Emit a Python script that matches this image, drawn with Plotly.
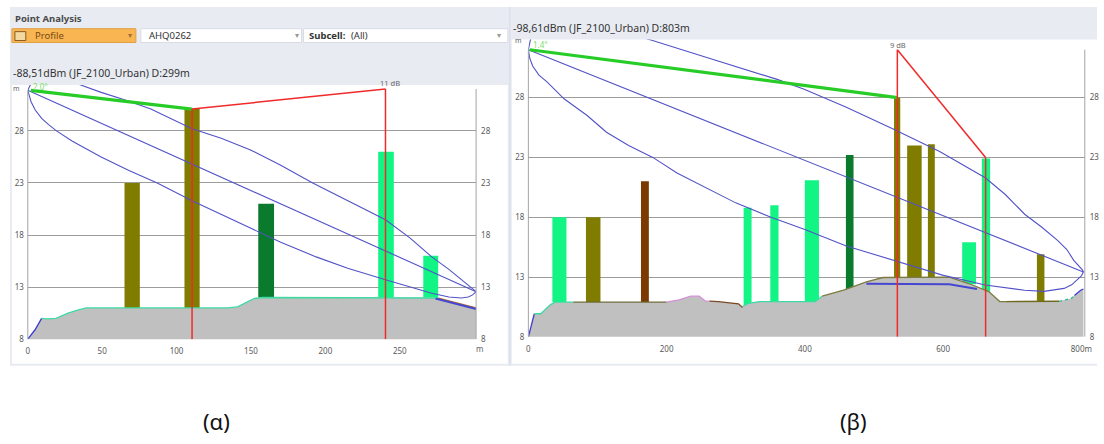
import numpy as np
import plotly.graph_objects as go

W, H = 1104, 444
FONT = "Noto Sans"

# ---------------- panel (α): 299 m path ----------------
A_TERRAIN_D = [0, 4.9, 9.3, 13, 19, 27, 34, 39.3, 134, 141, 148, 152, 158, 276, 288, 301.3]
A_TERRAIN_H = [8.0, 8.9, 10.0, 9.95, 10.0, 10.5, 10.8, 11.0, 11.0, 11.1, 11.6, 11.9, 12.0, 11.95, 11.5, 11.0]
A_OUTLINE_BREAKS = [0, 9.3, 276, 301.3]
A_OUTLINE_COLORS = ["#3c3cd2", "#3fd9a2", "#b0703a"]

A_BLD_START = [65.0, 105.3, 154.9, 235.5, 265.8]
A_BLD_END = [75.3, 115.5, 165.5, 246.0, 275.8]
A_BLD_TOP = [23.0, 30.1, 21.0, 26.0, 16.0]
A_BLD_BASE = [11.0, 11.0, 12.0, 12.0, 12.0]
A_BLD_COLOR = ["#807c00", "#807c00", "#0a7a2c", "#12f585", "#12f585"]

A_FZ_UP_D = [0, 2, 6, 15, 30, 49.3, 66, 82.7, 110.4, 130, 149.3, 170, 191.5, 215, 240.4, 257, 271.5,
             283, 291.5, 296, 299, 301.3]
A_FZ_UP_H = [31.9, 32.5, 33.0, 33.2, 32.7, 31.7, 30.95, 30.1, 28.2, 27.3, 26.2, 24.7, 23.0, 21.3, 19.46,
             17.7, 15.9, 14.7, 13.7, 13.25, 12.9, 12.56]
A_FZ_LO_D = [0, 1, 2.2, 5, 9.3, 14, 19.3, 30, 49.3, 68, 87, 110.4, 130, 149.3, 170, 193.8, 215, 240.4,
             257, 271.5, 283, 291.5, 296, 299, 301.3]
A_FZ_LO_H = [31.9, 31.3, 30.8, 30.0, 29.2, 28.6, 28.0, 27.0, 25.5, 24.2, 23.0, 21.3, 20.0, 18.7, 17.3,
             15.9, 14.8, 13.7, 13.0, 12.4, 12.05, 11.95, 12.05, 12.25, 12.56]
A_LOS_D = [0, 301.3]
A_LOS_H = [31.9, 12.56]
A_BLUE_D = [274, 301.3]
A_BLUE_H = [11.9, 10.9]

A_PATH_D = [2, 110.4]          # clear path to the first obstruction
A_PATH_H = [31.9, 30.1]
A_EDGE_D = [110.4, 240.4]      # knife-edge diffraction points
A_EDGE_H = [30.1, 32.03]
A_ANGLE = "2.0°"
A_LOSS = "11 dB"
A_TITLE = "-88,51dBm (JF_2100_Urban) D:299m"
A_XTICKS = [0, 50, 100, 150, 200, 250]

# ---------------- panel (β): 803 m path ----------------
B_TERRAIN_D = [0, 8.6, 18, 32, 39, 200, 218, 235, 247, 256, 275, 304, 309, 318, 335, 415, 425,
               456, 489, 513, 609, 637, 666, 682, 766, 785, 799, 803]
B_TERRAIN_H = [8.0, 9.93, 9.93, 10.7, 10.9, 10.9, 11.1, 11.4, 11.4, 11.0, 10.95, 10.76, 10.5, 10.8,
               10.95, 10.95, 11.4, 11.9, 12.6, 12.96, 13.0, 12.46, 11.78, 10.95, 10.95, 11.2, 11.9, 12.0]
B_OUTLINE_BREAKS = [0, 8.6, 65, 200, 262, 310, 425, 690, 768, 790, 803]
B_OUTLINE_COLORS = ["#3c3cd2", "#3fd9a2", "#6e6a3a", "#d58fd8", "#7a4a24", "#3fd9a2",
                    "#7d7a40", "#6e6a20", "#2fb8a0", "#3c3cd2"]

B_BLD_START = [34.7, 83.3, 162.9, 311.4, 350.0, 400.0, 459.4, 529.0, 548.0, 578.0, 627.6, 656.1, 735.7]
B_BLD_END = [55.1, 104.3, 174.3, 322.9, 361.9, 420.4, 470.4, 538.0, 569.0, 588.0, 647.6, 668.0, 746.6]
B_BLD_TOP = [18.0, 18.0, 21.0, 18.8, 19.0, 21.1, 23.2, 28.0, 24.0, 24.1, 15.9, 22.9, 14.9]
B_BLD_BASE = [10.9, 10.9, 10.9, 10.6, 10.95, 10.95, 11.8, 13.0, 13.0, 13.0, 12.4, 11.6, 10.95]
B_BLD_COLOR = ["#12f585", "#807c00", "#7a3a00", "#12f585", "#12f585", "#12f585", "#0a7a2c",
               "#807c00", "#807c00", "#807c00", "#12f585", "#12f585", "#807c00"]

B_FZ_UP_D = [0, 5, 30, 80, 130, 175, 250, 320, 361, 399, 460, 527, 595, 661, 690, 718, 742, 766, 779,
             789, 795, 799, 801.5, 803]
B_FZ_UP_H = [32.0, 33.4, 34.3, 34.3, 33.6, 32.85, 31.5, 30.2, 29.5, 28.7, 27.2, 25.4, 23.5, 21.3, 19.9,
             18.25, 17.2, 16.05, 15.3, 14.4, 14.05, 13.75, 13.6, 13.43]
B_FZ_LO_D = [0, 2, 6.2, 15, 27.7, 51.6, 85, 113, 145, 180, 215, 256, 300, 351, 399, 460, 527, 599, 661,
             718, 746, 775, 786, 794, 800, 803]
B_FZ_LO_H = [32.0, 31.3, 30.64, 29.9, 29.27, 27.9, 26.5, 25.1, 24.0, 23.0, 21.7, 20.5, 19.2, 18.0,
             17.0, 15.6, 14.4, 13.16, 12.33, 11.9, 11.8, 12.05, 12.35, 12.74, 13.1, 13.43]
B_LOS_D = [0, 803]
B_LOS_H = [32.0, 13.43]
B_BLUE_D = [489, 540, 609, 649]
B_BLUE_H = [12.45, 12.45, 12.4, 12.0]

B_PATH_D = [2, 533.8]
B_PATH_H = [32.0, 28.0]
B_EDGE_D = [533.8, 661.5]
B_EDGE_H = [32.0, 23.0]
B_ANGLE = "1.4°"
B_LOSS = "9 dB"
B_TITLE = "-98,61dBm (JF_2100_Urban) D:803m"
B_XTICKS = [0, 200, 400, 600, 800]
B_XTICKTEXT = ["0", "200", "400", "600", "800m"]

Y_TICKS = [8, 13, 18, 23, 28]

GRAY_AXIS = "#a4a4a4"
GRID = "#9c9c9c"
TICK_FONT = dict(family=FONT, size=8, color="#5a5a5a")
FZ_COLOR = "#5252c8"
RED = "#f02a2a"
GREEN = "#27cc27"


def px(x):
    return x / W


def py(y):
    return 1 - y / H


fig = go.Figure()


def add_profile(xa, ya, terr_d, terr_h, breaks, out_colors, b_start, b_end, b_top, b_base, b_color,
                up_d, up_h, lo_d, lo_h, los_d, los_h, blue_d, blue_h, path_d, path_h, edge_d, edge_h):
    # ground
    fig.add_trace(go.Scatter(x=terr_d, y=terr_h, mode="lines", fill="tozeroy", fillcolor="#c0c0c0",
                             line=dict(width=0), xaxis=xa, yaxis=ya, hoverinfo="skip", showlegend=False))
    # clutter-coloured ground outline
    for i, col in enumerate(out_colors):
        d0, d1 = breaks[i], breaks[i + 1]
        xs = [d0] + [d for d in terr_d if d0 < d < d1] + [d1]
        ys = list(np.interp(xs, terr_d, terr_h))
        dash = "dot" if col == "#2fb8a0" else "solid"
        fig.add_trace(go.Scatter(x=xs, y=ys, mode="lines", line=dict(color=col, width=1.3, dash=dash),
                                 xaxis=xa, yaxis=ya, hoverinfo="skip", showlegend=False))
    # buildings
    centers = [(s + e) / 2 for s, e in zip(b_start, b_end)]
    widths = [e - s for s, e in zip(b_start, b_end)]
    heights = [t - b for t, b in zip(b_top, b_base)]
    fig.add_trace(go.Bar(x=centers, y=heights, base=b_base, width=widths, marker_color=b_color,
                         marker_line_width=0, xaxis=xa, yaxis=ya, hoverinfo="skip", showlegend=False))
    # Fresnel zone and line of sight
    for d, h in ((up_d, up_h), (lo_d, lo_h), (los_d, los_h)):
        fig.add_trace(go.Scatter(x=d, y=h, mode="lines", line=dict(color=FZ_COLOR, width=1.1),
                                 xaxis=xa, yaxis=ya, hoverinfo="skip", showlegend=False))
    fig.add_trace(go.Scatter(x=blue_d, y=blue_h, mode="lines", line=dict(color="#4646d0", width=2),
                             xaxis=xa, yaxis=ya, hoverinfo="skip", showlegend=False))
    # clear path segment
    fig.add_trace(go.Scatter(x=path_d, y=path_h, mode="lines", line=dict(color=GREEN, width=3.2),
                             xaxis=xa, yaxis=ya, hoverinfo="skip", showlegend=False))
    # diffraction edges: verticals down to the axis floor plus the joining line
    red_x = [edge_d[0], edge_d[0], None, edge_d[0], edge_d[1], None, edge_d[1], edge_d[1]]
    red_y = [Y_TICKS[0], edge_h[0], None, edge_h[0], edge_h[1], None, edge_h[1], Y_TICKS[0]]
    fig.add_trace(go.Scatter(x=red_x, y=red_y, mode="lines", line=dict(color=RED, width=1.5),
                             xaxis=xa, yaxis=ya, hoverinfo="skip", showlegend=False))


add_profile("x", "y", A_TERRAIN_D, A_TERRAIN_H, A_OUTLINE_BREAKS, A_OUTLINE_COLORS,
            A_BLD_START, A_BLD_END, A_BLD_TOP, A_BLD_BASE, A_BLD_COLOR,
            A_FZ_UP_D, A_FZ_UP_H, A_FZ_LO_D, A_FZ_LO_H, A_LOS_D, A_LOS_H, A_BLUE_D, A_BLUE_H,
            A_PATH_D, A_PATH_H, A_EDGE_D, A_EDGE_H)
add_profile("x2", "y2", B_TERRAIN_D, B_TERRAIN_H, B_OUTLINE_BREAKS, B_OUTLINE_COLORS,
            B_BLD_START, B_BLD_END, B_BLD_TOP, B_BLD_BASE, B_BLD_COLOR,
            B_FZ_UP_D, B_FZ_UP_H, B_FZ_LO_D, B_FZ_LO_H, B_LOS_D, B_LOS_H, B_BLUE_D, B_BLUE_H,
            B_PATH_D, B_PATH_H, B_EDGE_D, B_EDGE_H)

# placeholder traces so the right-hand height scales are drawn
for xa, ya in (("x", "y3"), ("x2", "y4")):
    fig.add_trace(go.Scatter(x=[None], y=[None], xaxis=xa, yaxis=ya, showlegend=False, hoverinfo="skip"))

A_YMAX = 8 + (343 - 86) / 10.53
B_YMAX = 8 + (340.7 - 40) / 12.1
A_XMAX = 301.3
B_XMAX = 805

yax_common = dict(tickvals=Y_TICKS, tickfont=TICK_FONT, zeroline=False, ticks="", showline=False,
                  fixedrange=True)
xax_common = dict(showgrid=False, zeroline=False, ticks="", showline=False, tickfont=TICK_FONT,
                  ticklabelstandoff=6)

fig.update_layout(
    width=W, height=H, autosize=False,
    margin=dict(l=0, r=0, t=0, b=0),
    paper_bgcolor="white", plot_bgcolor="rgba(0,0,0,0)",
    barmode="overlay", showlegend=False,
    font=dict(family=FONT, color="#333333"),
    xaxis=dict(domain=[px(26), px(478)], range=[0, A_XMAX], anchor="y", tickvals=A_XTICKS, **xax_common),
    yaxis=dict(domain=[py(343), py(86)], range=[8, A_YMAX], anchor="x", showgrid=True, gridcolor=GRID,
               gridwidth=1, ticklabelstandoff=3, **yax_common),
    yaxis3=dict(overlaying="y", side="right", range=[8, A_YMAX], anchor="x", showgrid=False,
                ticklabelstandoff=4, **yax_common),
    xaxis2=dict(domain=[px(530.7), px(1091.7)], range=[0, B_XMAX], anchor="y2", tickvals=B_XTICKS,
                ticktext=B_XTICKTEXT, **xax_common),
    yaxis2=dict(domain=[py(340.7), py(40)], range=[8, B_YMAX], anchor="x2", showgrid=True, gridcolor=GRID,
                gridwidth=1, ticklabelstandoff=3, **yax_common),
    yaxis4=dict(overlaying="y2", side="right", range=[8, B_YMAX], anchor="x2", showgrid=False,
                ticklabelstandoff=4, **yax_common),
)

shapes = []
PANEL_BG = "#e8ebf2"
# panel frames and white plotting surfaces
shapes.append(dict(type="rect", xref="paper", yref="paper", x0=px(8), x1=px(512), y0=py(370), y1=py(7),
                   fillcolor=PANEL_BG, line=dict(width=0), layer="below"))
shapes.append(dict(type="rect", xref="paper", yref="paper", x0=px(10), x1=px(510), y0=py(368), y1=py(86),
                   fillcolor="white", line=dict(width=0), layer="below"))
shapes.append(dict(type="rect", xref="paper", yref="paper", x0=px(512), x1=px(1104), y0=py(370), y1=py(7),
                   fillcolor=PANEL_BG, line=dict(width=0), layer="below"))
shapes.append(dict(type="rect", xref="paper", yref="paper", x0=px(514), x1=px(1104), y0=py(368), y1=py(40),
                   fillcolor="white", line=dict(width=0), layer="below"))
shapes.append(dict(type="line", xref="paper", yref="paper", x0=px(512), x1=px(512), y0=py(370), y1=py(7),
                   line=dict(color="#d3d8e3", width=1), layer="below"))
# toolbar widgets of panel (α)
shapes.append(dict(type="rect", xref="paper", yref="paper", x0=px(10), x1=px(135), y0=py(43), y1=py(29),
                   fillcolor="#f8b552", line=dict(color="#e0a048", width=1), layer="below"))
shapes.append(dict(type="rect", xref="paper", yref="paper", x0=px(13), x1=px(24), y0=py(41), y1=py(32),
                   fillcolor="#f3d9a0", line=dict(color="#8a5a20", width=1), layer="below"))
shapes.append(dict(type="rect", xref="paper", yref="paper", x0=px(140), x1=px(302), y0=py(43), y1=py(29),
                   fillcolor="white", line=dict(color="#d8dce5", width=1), layer="below"))
shapes.append(dict(type="rect", xref="paper", yref="paper", x0=px(304), x1=px(510), y0=py(43), y1=py(29),
                   fillcolor="white", line=dict(color="#d8dce5", width=1), layer="below"))

# height axes drawn from ground level up to the antenna / receiver tops
for xa, ya, y_left, y_right in (("x", "y", A_LOS_H[0], A_EDGE_H[1]), ("x2", "y2", B_LOS_H[0], B_EDGE_H[0])):
    shapes.append(dict(type="line", xref=f"{xa} domain", yref=ya, x0=0, x1=0, y0=8, y1=y_left,
                       line=dict(color=GRAY_AXIS, width=1)))
    shapes.append(dict(type="line", xref=f"{xa} domain", yref=ya, x0=1, x1=1, y0=8, y1=y_right,
                       line=dict(color=GRAY_AXIS, width=1)))
fig.update_layout(shapes=shapes)

ann = []


def text(x, y, s, size=10, color="#333333", xanchor="left", bold=False, family=FONT, **kw):
    ann.append(dict(x=x, y=y, text=f"<b>{s}</b>" if bold else s, showarrow=False, xanchor=xanchor,
                    yanchor="middle", font=dict(family=family, size=size, color=color), **kw))


# headers
text(px(11), py(19), "Point Analysis", size=9.5, color="#4a4a4a", bold=True, xref="paper", yref="paper")
text(px(31), py(36), "Profile", size=9.5, color="#7a4a14", xref="paper", yref="paper")
text(px(129), py(36), "▾", size=8, color="#a0703a", xanchor="center", family="DejaVu Sans",
     xref="paper", yref="paper")
text(px(146), py(36), "AHQ0262", size=9.5, color="#333333", xref="paper", yref="paper")
text(px(297), py(36), "▾", size=8, color="#999999", xanchor="center", family="DejaVu Sans",
     xref="paper", yref="paper")
text(px(308), py(36), "Subcell:", size=9.5, color="#333333", bold=True, xref="paper", yref="paper")
text(px(350), py(36), "(All)", size=9.5, color="#333333", xref="paper", yref="paper")
text(px(501), py(36), "▾", size=8, color="#999999", xanchor="center", family="DejaVu Sans",
     xref="paper", yref="paper")
text(px(9), py(74), A_TITLE, size=10.5, color="#333333", xref="paper", yref="paper")
text(px(513), py(28), B_TITLE, size=10.5, color="#333333", xref="paper", yref="paper")

# unit labels
text(px(9), py(90), "m", size=7, color="#666666", xref="paper", yref="paper")
text(px(481), py(352), "m", size=8, color="#666666", xanchor="center", xref="paper", yref="paper")
text(px(515), py(41), "m", size=7, color="#666666", xref="paper", yref="paper")

# antenna tilt and diffraction loss labels
text(0, A_LOS_H[0], A_ANGLE, size=8, color="#77dd66", xref="x", yref="y", xshift=3, yshift=4)
text(A_EDGE_D[1], A_EDGE_H[1], A_LOSS, size=7.5, color="#666666", xanchor="center", xref="x", yref="y",
     yshift=6, xshift=5)
text(0, B_LOS_H[0], B_ANGLE, size=8, color="#77dd66", xref="x2", yref="y2", xshift=3, yshift=5)
text(B_EDGE_D[0], B_EDGE_H[0], B_LOSS, size=7.5, color="#666666", xanchor="center", xref="x2", yref="y2",
     yshift=5, xshift=1)

# sub-figure captions
text(px(216), py(426), "(α)", size=22, color="#111111", xanchor="center", xref="paper", yref="paper")
text(px(859), py(426), "(β)", size=22, color="#111111", xanchor="center", xref="paper", yref="paper")

fig.update_layout(annotations=ann)
fig.write_html("out.html")
